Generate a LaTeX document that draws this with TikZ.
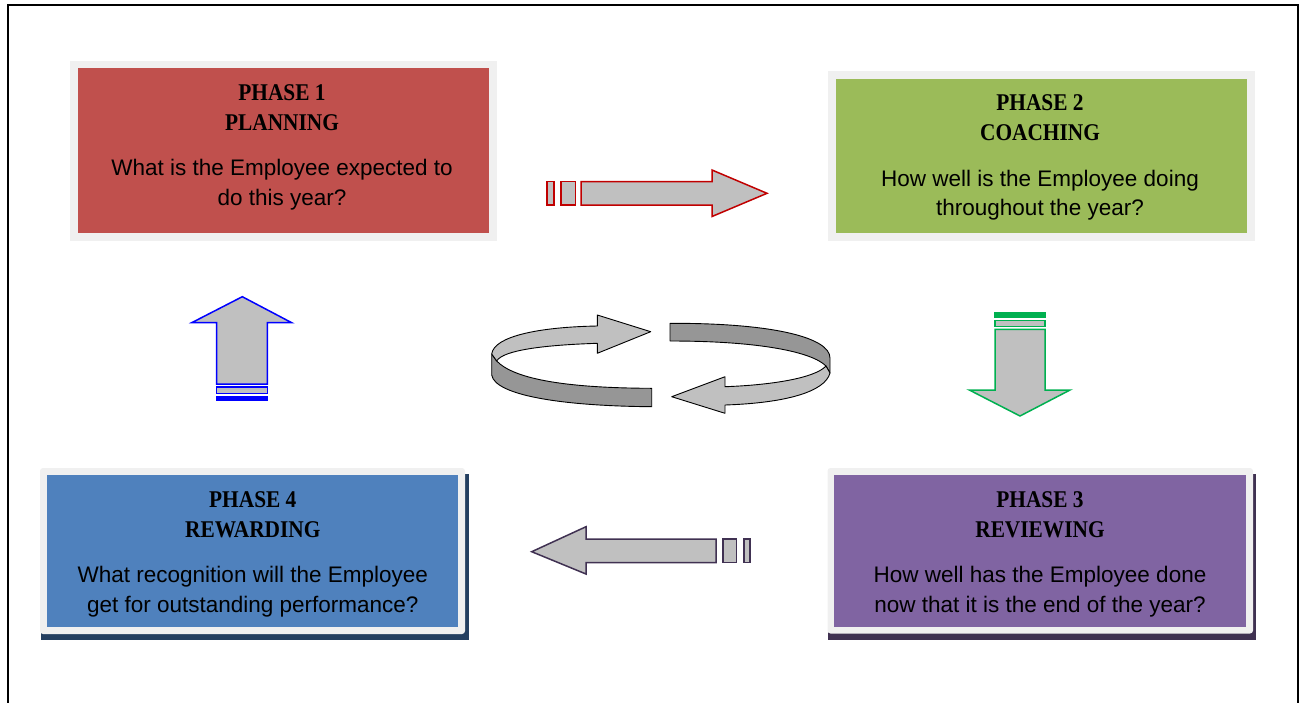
\documentclass[tikz,border=0pt]{standalone}
\usepackage{fontspec}
\setmainfont{Liberation Sans}
\newfontfamily\headfont{Liberation Serif}[FakeStretch=0.89]
\definecolor{framegray}{HTML}{F0F0F0}
\definecolor{planred}{HTML}{C0504D}
\definecolor{coachgreen}{HTML}{9BBB59}
\definecolor{reviewpurple}{HTML}{8064A2}
\definecolor{rewardblue}{HTML}{4F81BD}
\definecolor{navyshadow}{HTML}{243F60}
\definecolor{purpleshadow}{HTML}{3F3151}
\definecolor{arrowgray}{HTML}{C0C0C0}
\definecolor{ringdark}{HTML}{969696}
\definecolor{redline}{HTML}{C00000}
\definecolor{blueline}{HTML}{0000FF}
\definecolor{greenline}{HTML}{00B050}
\definecolor{purpleline}{HTML}{403152}
\begin{document}
\begin{tikzpicture}[x=1pt,y=-1pt,
  boxframe/.style={fill=framegray},
  phasetitle/.style={font=\headfont\fontsize{24}{30}\selectfont\bfseries,
    align=center, anchor=north, inner sep=0pt},
  phasetext/.style={font=\fontsize{22.5}{29.5}\selectfont,
    align=center, anchor=north, inner sep=0pt},
  blockarrow/.style={fill=arrowgray, line width=1.5pt, line join=miter},
  ring/.style={draw=black, line width=0.9pt, line join=round}]
\useasboundingbox (0,0) rectangle (1303,702);

% page frame
\draw[line width=1.3pt] (8,710) -- (8,5) -- (1298,5) -- (1298,710);

% Phase 1
\fill[boxframe] (70,61) rectangle (497,241);
\fill[planred] (78,68) rectangle (489,233);
\node[phasetitle] (t1) at (282,84.5) {PHASE 1\\PLANNING};
\node[phasetext] (q1) at (282,159) {What is the Employee expected to\\do this year?};

% Phase 2
\fill[boxframe] (828,71) rectangle (1255,241);
\fill[coachgreen] (836,79) rectangle (1247,233);
\node[phasetitle] (t2) at (1040,94) {PHASE 2\\COACHING};
\node[phasetext] (q2) at (1040,169.5) {How well is the Employee doing\\throughout the year?};

% Phase 3
\fill[purpleshadow] (828,474) rectangle (1256,639.5);
\fill[boxframe, rounded corners=3pt] (827.5,468) rectangle (1253,633.5);
\fill[reviewpurple] (834,475) rectangle (1246,627);
\node[phasetitle] (t3) at (1040,491) {PHASE 3\\REVIEWING};
\node[phasetext] (q3) at (1040,566) {How well has the Employee done\\now that it is the end of the year?};

% Phase 4
\fill[navyshadow] (41,474) rectangle (468.5,640);
\fill[boxframe, rounded corners=3pt] (40,468) rectangle (465,634);
\fill[rewardblue] (47.3,475) rectangle (458.3,627);
\node[phasetitle] (t4) at (252.8,491) {PHASE 4\\REWARDING};
\node[phasetext] (q4) at (252.8,566) {What recognition will the Employee\\get for outstanding performance?};

% arrow 1 -> 2
\draw[blockarrow, draw=redline] (547,181.7) rectangle (554,205);
\draw[blockarrow, draw=redline] (561,181.7) rectangle (575.5,205);
\draw[blockarrow, draw=redline] (581,181.7) -- (712,181.7) -- (712,170)
  -- (767,193.3) -- (712,216.5) -- (712,205) -- (581,205) -- cycle;

% arrow 2 -> 3
\fill[greenline] (994,312) rectangle (1046,317.7);
\draw[blockarrow, draw=greenline] (995,320.7) rectangle (1045,326.3);
\draw[blockarrow, draw=greenline] (995,329.3) -- (1045,329.3) -- (1045,390)
  -- (1070,390) -- (1020,416) -- (969.3,390) -- (995,390) -- cycle;

% arrow 3 -> 4
\draw[blockarrow, draw=purpleline] (716,539) -- (586,539) -- (586,526.7)
  -- (531.7,551.7) -- (586,574) -- (586,562.7) -- (716,562.7) -- cycle;
\draw[blockarrow, draw=purpleline] (723,539) rectangle (736.7,562.7);
\draw[blockarrow, draw=purpleline] (744,539) rectangle (750,562.7);

% arrow 4 -> 1
\draw[blockarrow, draw=blueline] (216.7,384) -- (216.7,322.7) -- (191.7,322.7)
  -- (242.3,296.7) -- (291.7,322.7) -- (267.3,322.7) -- (267.3,384) -- cycle;
\draw[blockarrow, draw=blueline] (216.7,387) rectangle (267.3,393.3);
\fill[blueline] (216,396) rectangle (268,401.3);

% central cycle ring, left half
\draw[ring, fill=ringdark] (491.7,354) -- (496.7,361)
  .. controls (515,380) and (570,388) .. (651.7,388.3)
  -- (651.7,406.7)
  .. controls (560,406) and (495,395) .. (491.7,375) -- cycle;
\draw[ring, fill=arrowgray] (491.7,354)
  .. controls (494,336) and (540,327) .. (597.3,326)
  -- (597.3,315) -- (650.7,331.7) -- (597.3,353.3) -- (597.3,343.3)
  .. controls (545,345) and (503,350) .. (496.7,361) -- cycle;

% central cycle ring, right half
\draw[ring, fill=ringdark] (670,323.3)
  .. controls (775,323) and (830,338) .. (830,358)
  -- (830,373) -- (826,366)
  .. controls (812,352) and (760,341) .. (670,341) -- cycle;
\draw[ring, fill=arrowgray] (830,373)
  .. controls (825,392) and (785,403) .. (725,405)
  -- (725,413.3) -- (671.7,396.7) -- (725,376.7) -- (725,386.7)
  .. controls (772,385) and (815,378) .. (826,366) -- cycle;
\end{tikzpicture}
\end{document}
